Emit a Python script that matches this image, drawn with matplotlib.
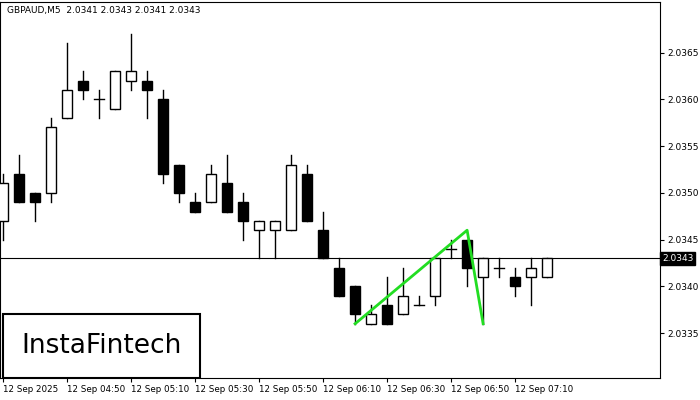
import matplotlib.pyplot as plt
from matplotlib.patches import Rectangle

opens = [2.0347, 2.0352, 2.0350, 2.0350, 2.0358, 2.0362, 2.0360, 2.0359, 2.0362, 2.0362,
         2.0360, 2.0353, 2.0349, 2.0349, 2.0351, 2.0349, 2.0346, 2.0346, 2.0346, 2.0352,
         2.0346, 2.0342, 2.0340, 2.0336, 2.0338, 2.0337, 2.0338, 2.0339, 2.0344, 2.0345,
         2.0341, 2.0342, 2.0341, 2.0341, 2.0341]
highs = [2.0352, 2.0354, 2.0350, 2.0358, 2.0366, 2.0363, 2.0361, 2.0363, 2.0367, 2.0363,
         2.0361, 2.0353, 2.0350, 2.0353, 2.0354, 2.0350, 2.0347, 2.0347, 2.0354, 2.0353,
         2.0348, 2.0343, 2.0340, 2.0338, 2.0341, 2.0342, 2.0339, 2.0343, 2.0345, 2.0345,
         2.0343, 2.0343, 2.0342, 2.0343, 2.0343]
lows = [2.0345, 2.0349, 2.0347, 2.0349, 2.0358, 2.0360, 2.0358, 2.0359, 2.0361, 2.0358,
        2.0351, 2.0349, 2.0348, 2.0349, 2.0348, 2.0345, 2.0343, 2.0343, 2.0346, 2.0347,
        2.0343, 2.0339, 2.0336, 2.0336, 2.0336, 2.0337, 2.0338, 2.0338, 2.0343, 2.0340,
        2.0336, 2.0341, 2.0339, 2.0338, 2.0341]
closes = [2.0351, 2.0349, 2.0349, 2.0357, 2.0361, 2.0361, 2.0360, 2.0363, 2.0363, 2.0361,
          2.0352, 2.0350, 2.0348, 2.0352, 2.0348, 2.0347, 2.0347, 2.0347, 2.0353, 2.0347,
          2.0343, 2.0339, 2.0337, 2.0337, 2.0336, 2.0339, 2.0338, 2.0343, 2.0344, 2.0342,
          2.0343, 2.0342, 2.0340, 2.0342, 2.0343]

tick_pos = [0, 4, 8, 12, 16, 20, 24, 28, 32]
tick_labels = ['12 Sep 2025', '12 Sep 04:50', '12 Sep 05:10', '12 Sep 05:30', '12 Sep 05:50',
               '12 Sep 06:10', '12 Sep 06:30', '12 Sep 06:50', '12 Sep 07:10']
price_ticks = [2.0335, 2.0340, 2.0345, 2.0350, 2.0355, 2.0360, 2.0365]

pattern_x = [22, 29, 30]
pattern_y = [2.0336, 2.0346, 2.0336]
last_price = 2.0343

fig = plt.figure(figsize=(7, 4), dpi=100)
ax = fig.add_axes([0.0, 0.055, 0.943, 0.94])

w = 0.62
for i, (o, h, l, c) in enumerate(zip(opens, highs, lows, closes)):
    ax.plot([i, i], [l, h], color='black', lw=1, zorder=2)
    lo, hi = min(o, c), max(o, c)
    if hi - lo < 1e-7:
        ax.plot([i - w / 2, i + w / 2], [o, o], color='black', lw=1, zorder=3)
    else:
        face = 'white' if c > o else 'black'
        ax.add_patch(Rectangle((i - w / 2, lo), w, hi - lo, facecolor=face,
                               edgecolor='black', lw=1, zorder=3))

ax.axhline(last_price, color='black', lw=0.8, zorder=1)
ax.plot(pattern_x, pattern_y, color='#22dd22', lw=2, zorder=4)

ax.set_xlim(-0.19, 41.06)
ax.set_ylim(2.03302, 2.03704)
ax.yaxis.tick_right()
ax.set_yticks(price_ticks)
ax.set_yticklabels([f'{p:.4f}' for p in price_ticks], fontsize=6.5)
ax.set_xticks(tick_pos)
ax.set_xticklabels(tick_labels, fontsize=6.3, ha='left')
ax.tick_params(axis='x', length=3, pad=2)
ax.tick_params(axis='y', length=3, pad=2)
for s in ax.spines.values():
    s.set_linewidth(0.8)

ax.text(1.003, last_price, f'{last_price:.4f}', transform=ax.get_yaxis_transform(),
        fontsize=6.5, color='white', va='center', ha='left',
        bbox=dict(boxstyle='square,pad=0.2', facecolor='black', edgecolor='black'))

ax.text(0.01, 0.99, 'GBPAUD,M5  2.0341 2.0343 2.0341 2.0343', transform=ax.transAxes,
        fontsize=6.5, va='top', ha='left')

ax.add_patch(Rectangle((0.005, 0.0), 0.298, 0.17, transform=ax.transAxes, facecolor='white',
                       edgecolor='black', lw=1.5, zorder=5))
ax.text(0.154, 0.085, 'InstaFintech', transform=ax.transAxes, fontsize=19,
        fontweight='medium', ha='center', va='center', zorder=6)

fig.savefig('out.png', dpi=100)
